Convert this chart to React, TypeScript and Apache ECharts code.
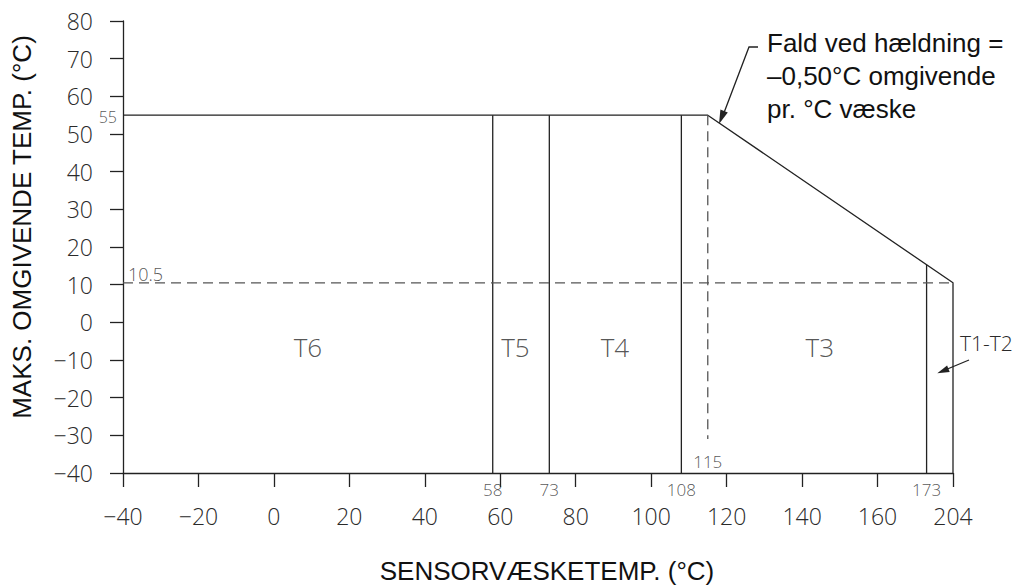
import React, { useEffect, useRef } from "react";
import * as echarts from "echarts";

// ---- data ----
const xTickMin = -40;
const xTickMax = 180; // axis display end (labelled 204)
const xEndLabel = "204";
const yMin = -40;
const yMax = 80;

const envelopeX = [-40, 115, 204, 204];
const envelopeY = [55, 55, 10.5, -40];
const zoneBoundaries = [58, 73, 108];
const zoneTop = 55;
const t1t2Boundary = 173;
const derateStart = 115;
const derateDashBottom = -31;
const minAmbient = 10.5;
const zoneLabels = ["T6", "T5", "T4", "T3"];
const zoneLabelX = [9, 64, 90.4, 144.7];
const zoneLabelY = -5.7;
const boundaryLabels = [58, 73, 108, 173];

const LINE = "#222";
const TXT = "#2a2a2a";
const CAD = "'Open Sans', 'DejaVu Sans', sans-serif";
const SANS = "'Liberation Sans', Arial, sans-serif";

// x axis is linear up to 173, last section compressed so 204 sits at 180
const pos = (t: number) => (t <= 173 ? t : 173 + ((t - 173) * 7) / 31);

// height of the derating line at a given display x
const slopeAt = (xd: number) => {
  const x0 = pos(envelopeX[1]), y0 = envelopeY[1];
  const x1 = pos(envelopeX[2]), y1 = envelopeY[2];
  return y0 + ((xd - x0) * (y1 - y0)) / (x1 - x0);
};

const textLabel = (
  name: string,
  value: number[],
  position: any,
  fontSize: number,
  extra: any = {}
) => ({
  type: "scatter",
  symbolSize: 0,
  silent: true,
  clip: false,
  itemStyle: { color: TXT },
  data: [{ name, value }],
  label: {
    show: true,
    position,
    formatter: (p: any) => p.name,
    fontFamily: CAD,
    fontSize,
    fontWeight: 300,
    color: TXT,
    textBorderWidth: 0,
    textShadowBlur: 0,
    ...extra,
  },
});

const neg = (v: number) => (v < 0 ? "−" + Math.abs(v) : String(v));

export default function App() {
  const ref = useRef<HTMLDivElement>(null);
  useEffect(() => {
    document.body.style.margin = "0";
    const chart = echarts.init(ref.current!, null, { renderer: "svg" });
    const solid = { color: LINE, width: 1.3 };
    const series: any[] = [];
    series.push({
      type: "line",
      data: envelopeX.map((x, i) => [pos(x), envelopeY[i]]),
      symbol: "none",
      lineStyle: solid,
      clip: false,
    });
    zoneBoundaries.forEach((b) => {
      series.push({
        type: "line",
        data: [[pos(b), zoneTop], [pos(b), yMin]],
        symbol: "none",
        lineStyle: solid,
      });
    });
    series.push({
      type: "line",
      data: [[pos(t1t2Boundary), slopeAt(pos(t1t2Boundary))], [pos(t1t2Boundary), yMin]],
      symbol: "none",
      lineStyle: solid,
    });
    series.push({
      type: "line",
      data: [[pos(-40), minAmbient], [pos(204), minAmbient]],
      symbol: "none",
      lineStyle: { color: "#555", width: 1.3, type: [10, 6] },
    });
    series.push({
      type: "line",
      data: [[pos(derateStart), zoneTop], [pos(derateStart), derateDashBottom]],
      symbol: "none",
      lineStyle: { color: "#555", width: 1.3, type: [10, 6] },
    });
    zoneLabels.forEach((n, i) => {
      series.push(textLabel(n, [pos(zoneLabelX[i]), zoneLabelY], "top", 26, { distance: -16 }));
    });
    boundaryLabels.forEach((b) => {
      series.push(textLabel(String(b), [pos(b), yMin], "bottom", 17, { distance: 8 }));
    });
    series.push(textLabel(String(derateStart), [pos(derateStart), yMin], "top", 17, { distance: 3 }));
    series.push(textLabel("10.5", [pos(-40), minAmbient], "right", 18, { distance: 5, offset: [0, -9] }));
    series.push(textLabel(String(zoneTop), [pos(-40), zoneTop], "left", 16, { distance: 6, offset: [0, 2] }));

    chart.setOption({
      animation: false,
      grid: {
        left: 123,
        top: 21,
        width: 830,
        height: 452,
        containLabel: false,
        outerBoundsMode: "none",
      },
      xAxis: {
        type: "value",
        min: xTickMin,
        max: xTickMax,
        interval: 20,
        splitLine: { show: false },
        axisLine: { onZero: false, lineStyle: { color: LINE, width: 1.3 } },
        axisTick: { length: 14, lineStyle: { color: LINE, width: 1.3 } },
        axisLabel: {
          margin: 31,
          fontSize: 23,
          fontFamily: CAD,
          fontWeight: 300,
          color: TXT,
          formatter: (v: number) => (v === xTickMax ? xEndLabel : neg(v)),
        },
        name: "SENSORVÆSKETEMP. (°C)",
        nameLocation: "middle",
        nameGap: 85,
        nameTextStyle: { fontFamily: SANS, fontSize: 26, color: "#111", padding: [0, 0, 0, 18] },
      },
      yAxis: {
        type: "value",
        min: yMin,
        max: yMax,
        interval: 10,
        splitLine: { show: false },
        axisLine: { onZero: false, lineStyle: { color: LINE, width: 1.3 } },
        axisTick: { length: 13, lineStyle: { color: LINE, width: 1.3 } },
        axisLabel: {
          margin: 30,
          fontSize: 23,
          fontFamily: CAD,
          fontWeight: 300,
          color: TXT,
          formatter: neg,
        },
        name: "MAKS. OMGIVENDE TEMP. (°C)",
        nameLocation: "middle",
        nameGap: 88,
        nameTextStyle: { fontFamily: SANS, fontSize: 26, color: "#111", padding: [0, 0, 0, 40] },
      },
      series,
      graphic: [
        {
          type: "text",
          left: 767,
          top: 26,
          style: {
            text: "Fald ved hældning =\n–0,50°C omgivende\npr. °C væske",
            font: "26px 'Liberation Sans', Arial, sans-serif",
            lineHeight: 33,
            fill: "#111",
          },
        },
        {
          type: "polyline",
          shape: { points: [[758, 47], [749, 47], [722, 118]] },
          style: { stroke: LINE, lineWidth: 1.3, fill: "none" },
        },
        {
          type: "polygon",
          shape: { points: [[719, 124], [727.8, 112.4], [720.4, 109.5]] },
          style: { fill: LINE },
        },
        {
          type: "text",
          left: 960,
          top: 332,
          style: { text: "T1-T2", font: "300 21px 'Open Sans', 'DejaVu Sans', sans-serif", fill: TXT },
        },
        {
          type: "line",
          shape: { x1: 969, y1: 360, x2: 945, y2: 370 },
          style: { stroke: LINE, lineWidth: 1.3 },
        },
        {
          type: "polygon",
          shape: { points: [[937.3, 373.3], [949.7, 372.0], [947.1, 365.6]] },
          style: { fill: LINE },
        },
      ],
    });
    return () => chart.dispose();
  }, []);
  return <div ref={ref} style={{ width: 1020, height: 586 }} />;
}
